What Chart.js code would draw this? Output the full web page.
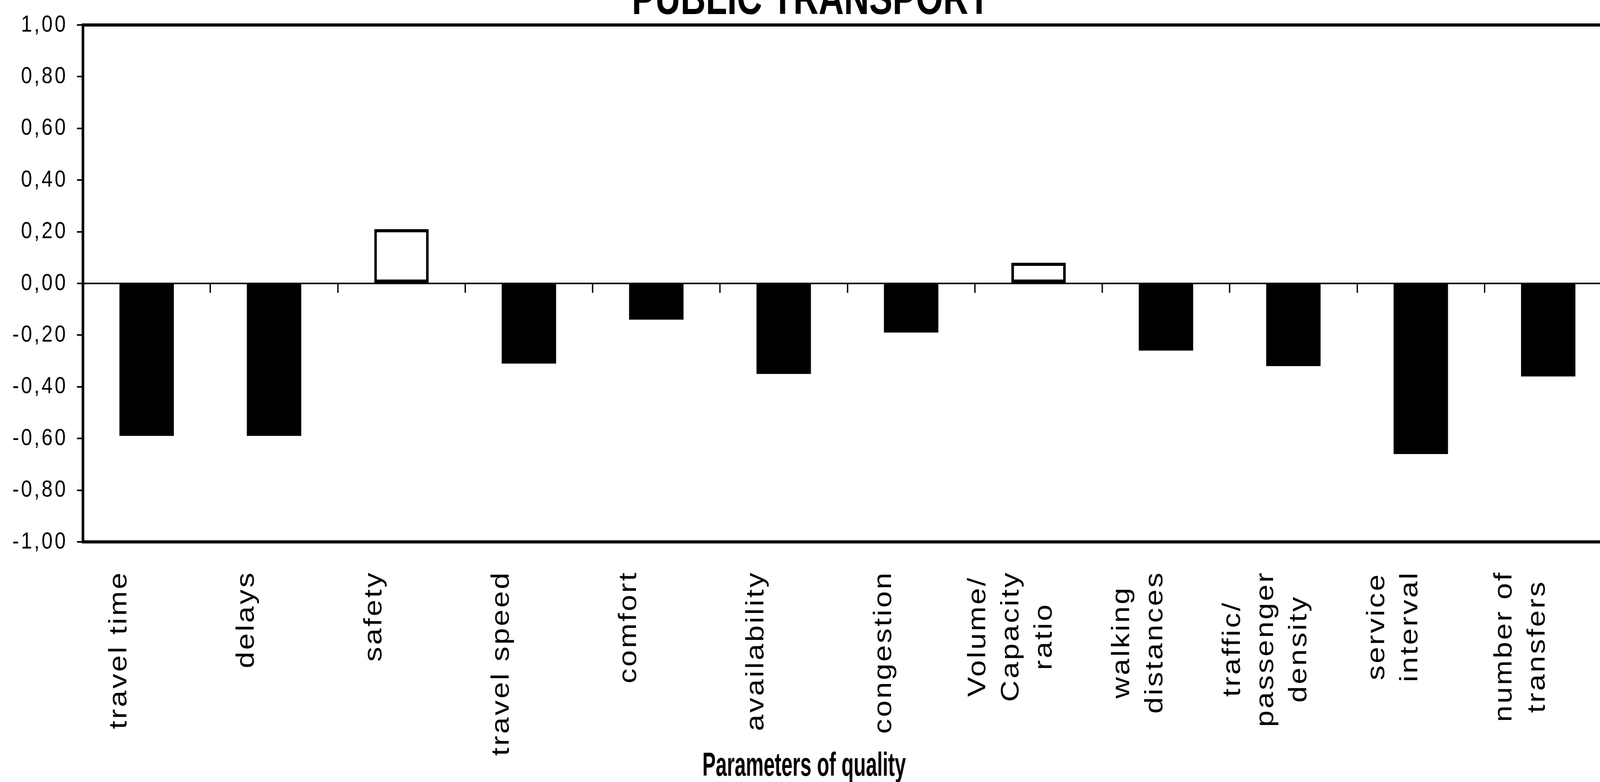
<!DOCTYPE html>
<html>
<head>
<meta charset="utf-8">
<title>Public transport - parameters of quality</title>
<script src="https://cdn.jsdelivr.net/npm/chart.js@4.4.1/dist/chart.umd.min.js"></script>
<style>
  html, body { margin: 0; padding: 0; background: #fff; overflow: hidden; width: 100vw; height: 100vh; }
  #wrap { position: absolute; left: 0; top: 0; width: 4890px; height: 2003px; transform-origin: 0 0; }
  #qualityChart { display: block; }
</style>
</head>
<body>
<div id="wrap"><canvas id="qualityChart" width="4890" height="2003"></canvas></div>
<script>
// category labels, one array of lines per bar
const categories = [
    ['travel time'],
    ['delays'],
    ['safety'],
    ['travel speed'],
    ['comfort'],
    ['availability'],
    ['congestion'],
    ['Volume/', 'Capacity', 'ratio'],
    ['walking', 'distances'],
    ['traffic/', 'passenger', 'density'],
    ['service', 'interval'],
    ['number of', 'transfers']
];
const values = [-0.59, -0.59, 0.21, -0.31, -0.14, -0.35, -0.19, 0.08, -0.26, -0.32, -0.66, -0.36];
const yMin = -1;
const yMax = 1;
const yStep = 0.2;
const chartTitle = 'PUBLIC TRANSPORT';
const axisTitle = 'Parameters of quality';

const plainFont = "'Liberation Sans', Arial, sans-serif";

// the chart is laid out on a 4825 x 2003 grid; squeeze it into the real window width
const wrap = document.getElementById('wrap');
wrap.style.transform = 'scale(' + (window.innerWidth / 4825) + ',' + (window.innerHeight / 2003) + ')';

// rotated, centred multi-line category labels under the plot
const categoryLabels = {
    id: 'categoryLabels',
    afterDraw(chart) {
        const { ctx, chartArea, scales } = chart;
        const x = scales.x;
        const shift = 82;      // labels sit a bit left of the bar centre
        const gap = 74;        // distance below the plot frame
        const lineH = 100;
        ctx.save();
        ctx.font = '76px ' + plainFont;
        ctx.letterSpacing = '5px';
        ctx.fillStyle = '#000';
        ctx.textAlign = 'center';
        ctx.textBaseline = 'middle';
        categories.forEach((lines, i) => {
            const cx = x.getPixelForValue(i) - shift;
            const top = chartArea.bottom + gap;
            const maxW = Math.max(...lines.map(l => ctx.measureText(l).width));
            ctx.save();
            ctx.translate(cx, top);
            ctx.rotate(-Math.PI / 2);
            lines.forEach((l, j) => {
                ctx.fillText(l, -maxW / 2, (j - (lines.length - 1) / 2) * lineH);
            });
            ctx.restore();
        });
        ctx.restore();
    }
};

// chart title (cut by the top edge) and the condensed bold axis title
const titles = {
    id: 'titles',
    afterDraw(chart) {
        const { ctx } = chart;
        ctx.save();
        ctx.fillStyle = '#000';
        ctx.textAlign = 'center';
        ctx.textBaseline = 'alphabetic';
        ctx.letterSpacing = '0px';

        ctx.save();
        ctx.font = 'bold 120px ' + plainFont;
        ctx.translate(2445, 36);
        ctx.scale(0.88, 1);
        ctx.fillText(chartTitle, 0, 0);
        ctx.restore();

        ctx.save();
        ctx.font = 'bold 85px ' + plainFont;
        ctx.translate(2425, 1987);
        ctx.scale(0.71, 1);
        ctx.fillText(axisTitle, 0, 0);
        ctx.restore();

        ctx.restore();
    }
};

// plot frame + wider letter spacing like the scanned original
const frame = {
    id: 'frame',
    beforeLayout(chart) { chart.ctx.letterSpacing = '6px'; },
    beforeDraw(chart) { chart.ctx.letterSpacing = '6px'; },
    afterDraw(chart) {
        const { ctx, chartArea: a } = chart;
        ctx.save();
        ctx.strokeStyle = '#000';
        ctx.lineWidth = 8;
        ctx.strokeRect(a.left, a.top, a.right - a.left, a.bottom - a.top);
        ctx.restore();
    }
};

const ctx = document.getElementById('qualityChart');
const qualityChart = new Chart(ctx, {
    type: 'bar',
    data: {
        labels: categories.map(l => l.join(' ')),
        datasets: [{
            label: 'Public transport',
            data: values,
            backgroundColor: c => c.raw >= 0 ? '#ffffff' : '#000000',
            borderColor: '#000000',
            borderWidth: c => c.raw >= 0 ? 8 : 0,
            borderSkipped: false,
            barPercentage: 0.427,
            categoryPercentage: 1
        }]
    },
    options: {
        responsive: false,
        animation: false,
        devicePixelRatio: 1,
        layout: { padding: { left: 0, right: 29, top: 62, bottom: 615 } },
        plugins: {
            legend: { display: false },
            tooltip: { enabled: false },
            title: { display: false }
        },
        scales: {
            x: {
                display: false,
                offset: true
            },
            xZero: {
                type: 'category',
                axis: 'x',
                position: { y: 0 },
                offset: true,
                grid: {
                    display: true,
                    drawOnChartArea: false,
                    drawTicks: true,
                    tickLength: 22,
                    color: '#000',
                    lineWidth: 4,
                    offset: true
                },
                ticks: { display: false },
                border: { display: true, color: '#000', width: 4, dash: [18, 10] }
            },
            y: {
                min: yMin,
                max: yMax,
                afterFit(scale) { scale.width = 250; },
                ticks: {
                    stepSize: yStep,
                    color: '#000',
                    padding: 28,
                    font: { family: plainFont, size: 60 },
                    callback: v => (Math.abs(v) < 1e-9 ? 0 : v).toFixed(2).replace('.', ',')
                },
                grid: {
                    drawOnChartArea: false,
                    tickLength: 18,
                    color: '#000',
                    lineWidth: 4
                },
                border: { display: false }
            }
        }
    },
    plugins: [frame, categoryLabels, titles]
});
</script>
</body>
</html>
